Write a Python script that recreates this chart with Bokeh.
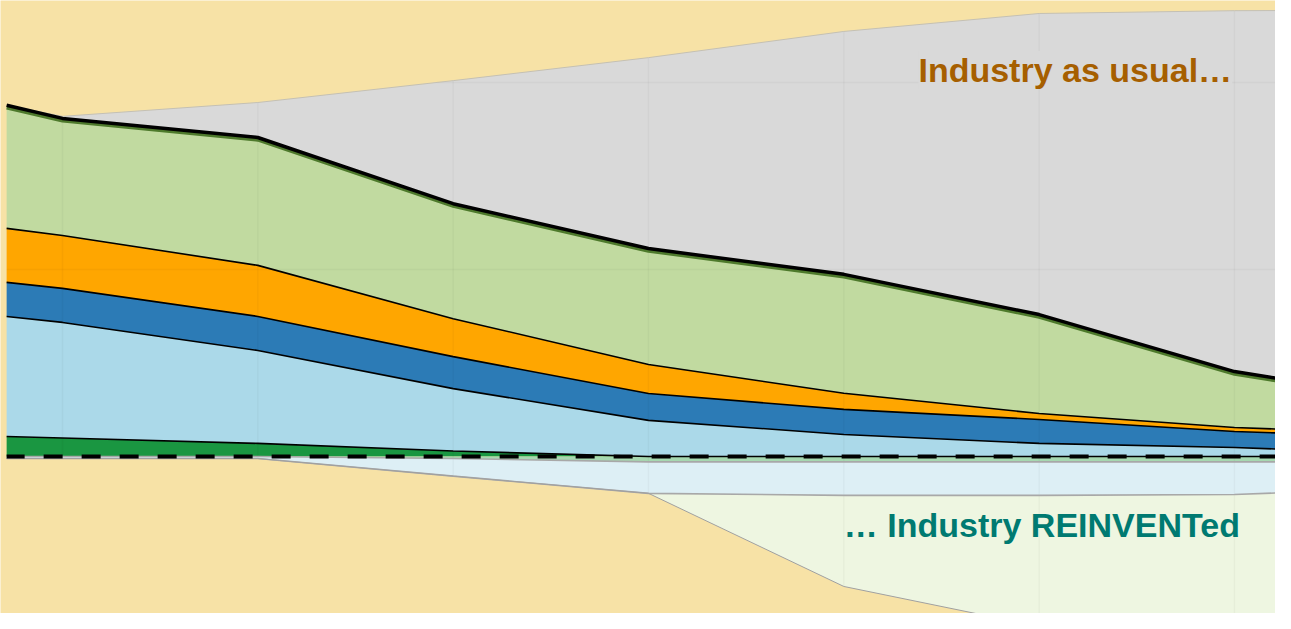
import numpy as np
from bokeh.plotting import figure
from bokeh.models import Range1d, Label, ColumnDataSource
from bokeh.embed import file_html
from bokeh.resources import INLINE

# ---------------- data (Gt) ----------------
# first / last entries are the cut-off edges of the visible chart
years = [2018.57, 2020, 2025, 2030, 2035, 2040, 2045, 2050, 2051.46]

# "Industry as usual" stack, bottom -> top
dark_green = [1.07, 0.99, 0.70, 0.29, 0.00, 0.00, 0.00, 0.00, 0.00]
light_blue = [6.42, 6.18, 4.97, 3.34, 1.93, 1.18, 0.70, 0.48, 0.37]
blue = [1.82, 1.82, 1.82, 1.71, 1.44, 1.34, 1.28, 0.86, 0.86]
orange = [2.89, 2.83, 2.73, 2.03, 1.55, 0.86, 0.32, 0.21, 0.21]
light_green = [6.58, 6.26, 6.84, 6.15, 6.20, 6.36, 5.29, 2.99, 2.62]
gray = [0.00, 0.11, 1.87, 6.58, 10.21, 12.99, 16.10, 19.30, 19.79]

# "Industry REINVENTed" stack below zero, top -> bottom
pale_green = [0.00, 0.00, 0.00, -0.11, -0.29, -0.29, -0.29, -0.29, -0.29]
pale_blue = [-0.11, -0.11, -0.11, -0.94, -1.68, -1.79, -1.79, -1.74, -1.63]
pale_yellow = [0.00, 0.00, 0.00, 0.00, 0.00, -4.87, -7.01, -8.02, -8.40]

grid_years = [2020, 2025, 2030, 2035, 2040, 2045, 2050]
grid_values = [10, 20]

label_top = "Industry as usual…"
label_bottom = "… Industry REINVENTed"

# ---------------- styling ----------------
WHEAT = "#F7E2A6"
pos_names = ["dark_green", "light_blue", "blue", "orange", "light_green", "gray"]
pos_colors = ["#1A9641", "#ABD9E9", "#2C7BB6", "#FFA600", "#C1DAA0", "#D9D9D9"]
neg_names = ["pale_green", "pale_blue", "pale_yellow"]
neg_colors = ["#A6D8B0", "#DDEFF5", "#EEF6E1"]

src = ColumnDataSource(dict(
    year=years, dark_green=dark_green, light_blue=light_blue, blue=blue,
    orange=orange, light_green=light_green, gray=gray,
    pale_green=pale_green, pale_blue=pale_blue, pale_yellow=pale_yellow,
))

p = figure(width=1275, height=613,
           x_range=Range1d(2018.413, 2051.050),
           y_range=Range1d(-8.396, 24.385),
           x_axis_location=None, y_axis_location=None,
           toolbar_location=None, output_backend="svg",
           min_border=0, background_fill_color=WHEAT,
           border_fill_color=WHEAT, outline_line_color=None)
p.grid.visible = False
p.grid.grid_line_color = None

p.varea_stack(stackers=pos_names, x="year", color=pos_colors, source=src)
p.varea_stack(stackers=neg_names, x="year", color=neg_colors, source=src)

pos_cum = np.cumsum(np.array([dark_green, light_blue, blue, orange, light_green, gray]), axis=0)
neg_cum = np.cumsum(np.array([pale_green, pale_blue, pale_yellow]), axis=0)
yrs = np.array(years)

# faint grid lines, only inside the charted region
gi = [int(np.argmin(np.abs(yrs - g))) for g in grid_years]
p.segment(x0=grid_years, y0=[neg_cum[2][i] for i in gi],
          x1=grid_years, y1=[pos_cum[5][i] for i in gi],
          line_color="black", line_alpha=0.03, line_width=1.5)
tops = pos_cum[5]
h_start = [years[0] if tops[0] >= v else float(np.interp(v, tops[1:], yrs[1:])) for v in grid_values]
p.segment(x0=h_start, y0=grid_values, x1=[years[-1]] * len(grid_values), y1=grid_values,
          line_color="black", line_alpha=0.03, line_width=1.5)

# boundary lines
for i in range(4):
    p.line(years, pos_cum[i], line_color="black", line_width=1.6)
p.line(years, pos_cum[5], line_color="#C4C0B4", line_width=1)
p.line(years, neg_cum[0], line_color="#A8A8A8", line_width=1.6)
p.line(years, neg_cum[1], line_color="#A8A8A8", line_width=1.6)
p.line(years, neg_cum[2], line_color="#A0A0A0", line_width=1)
# thick top line of the usual-industry total
p.line(years, pos_cum[4] - 0.13, line_color="#4E7A2C", line_width=3.5)
p.line(years, pos_cum[4], line_color="black", line_width=3.5)

# dashed zero line across the drawn period
p.line([years[0], years[-1]], [0, 0], line_color="black", line_width=4,
       line_dash="19 19", line_dash_offset=1)

p.add_layout(Label(x=2041.91, y=20.67, text=label_top,
                   text_font="Liberation Sans", text_font_style="bold",
                   text_font_size="34px", text_color="#A65F00",
                   text_baseline="alphabetic",
                   background_fill_color="#D9D9D9"))
p.add_layout(Label(x=2040.0, y=-3.66, text=label_bottom,
                   text_font="Liberation Sans", text_font_style="bold",
                   text_font_size="34px", text_color="#007A71",
                   text_baseline="alphabetic"))

open("out.html", "w").write(file_html(p, INLINE))
